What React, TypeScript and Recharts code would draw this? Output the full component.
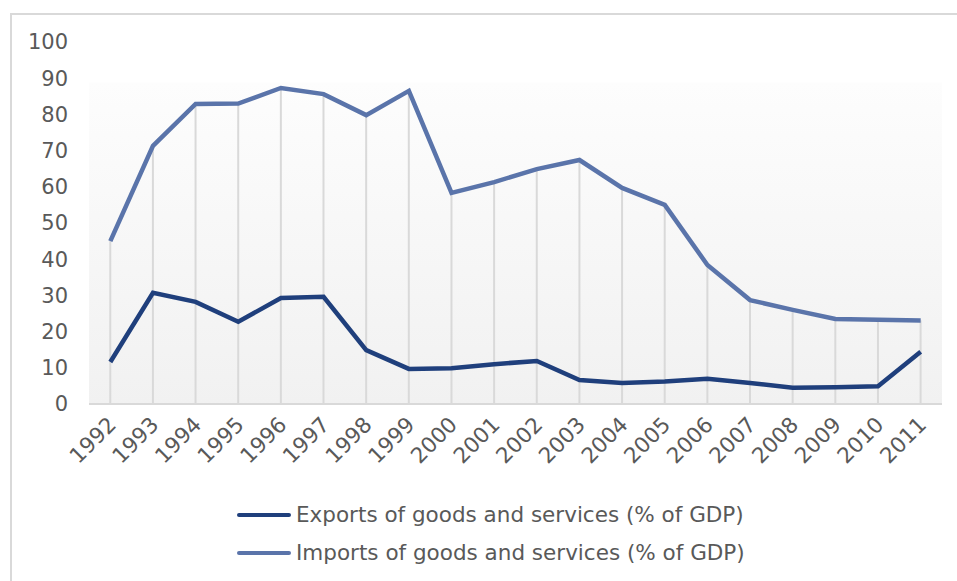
import React from 'react';
import { ComposedChart, Line, Bar, XAxis, YAxis, Legend, ReferenceArea } from 'recharts';

const years = ['1992','1993','1994','1995','1996','1997','1998','1999','2000','2001','2002','2003','2004','2005','2006','2007','2008','2009','2010','2011'];
const exportsPct = [11.6, 30.7, 28.2, 22.7, 29.3, 29.6, 14.9, 9.7, 9.9, 11.0, 11.9, 6.6, 5.8, 6.2, 7.0, 5.8, 4.5, 4.6, 4.9, 14.4];
const importsPct = [45.0, 71.3, 82.9, 83.0, 87.3, 85.6, 79.8, 86.5, 58.3, 61.3, 64.9, 67.4, 59.7, 55.0, 38.4, 28.7, 26.0, 23.5, 23.3, 23.1];
const yTicks = [0, 10, 20, 30, 40, 50, 60, 70, 80, 90, 100];
const seriesNames = ['Exports of goods and services (% of GDP)', 'Imports of goods and services (% of GDP)'];

const data = years.map((y, i) => ({ year: y, exports: exportsPct[i], imports: importsPct[i] }));

const FONT = '"DejaVu Sans", Verdana, sans-serif';
const EXP_COLOR = '#1f3f7c';
const IMP_COLOR = '#5a74aa';
const TEXT = '#595959';

const XTick = (props: any) => {
  const { x, y, payload } = props;
  const ax = x + 7;
  const ay = y + 14;
  return (
    <text x={ax} y={ay} transform={`rotate(-45 ${ax} ${ay})`} textAnchor="end" fill={TEXT} fontSize={21.5} fontFamily={FONT}>
      {payload.value}
    </text>
  );
};

const DropLine = (props: any) => {
  const { x, y, width, height } = props;
  const cx = x + width / 2;
  return <line x1={cx} x2={cx} y1={y} y2={y + height} stroke="#d9d9d9" strokeWidth={2} />;
};

const LegendContent = () => {
  const colors = [EXP_COLOR, IMP_COLOR];
  return (
    <div style={{ position: 'relative', height: 90, width: 957 }}>
      {seriesNames.map((n, i) => (
        <div key={n} style={{ position: 'absolute', left: 237, top: 21 + i * 38, display: 'flex', alignItems: 'center', fontFamily: FONT, fontSize: 21.5, color: TEXT, whiteSpace: 'nowrap', lineHeight: '26px' }}>
          <span style={{ display: 'inline-block', width: 54, height: 4, background: colors[i], borderRadius: 2, marginRight: 5 }} />
          <span>{n}</span>
        </div>
      ))}
    </div>
  );
};

export default function App() {
  return (
    <div style={{ position: 'absolute', left: 0, top: 0, width: 957, height: 581, overflow: 'hidden', background: '#fff' }}>
      <div style={{ position: 'absolute', left: 10, top: 13, width: 1000, height: 1000, border: '2px solid #d9d9d9', boxSizing: 'border-box' }} />
      <div style={{ position: 'absolute', left: 0, top: 0 }}>
        <ComposedChart width={957} height={581} data={data} margin={{ top: 42, right: 15, left: 0, bottom: 10 }}>
          <defs>
            <linearGradient id="bgGrad" x1="0" y1="0" x2="0" y2="1">
              <stop offset="0%" stopColor="#fdfdfd" />
              <stop offset="100%" stopColor="#f1f1f1" />
            </linearGradient>
          </defs>
          <ReferenceArea y1={0} y2={88.8} fill="url(#bgGrad)" fillOpacity={1} stroke="none" ifOverflow="visible" />
          <XAxis dataKey="year" height={77} tickLine={false} axisLine={{ stroke: '#d9d9d9', strokeWidth: 2 }} tick={<XTick />} interval={0} />
          <YAxis width={89} domain={[0, 100]} ticks={yTicks} tickLine={false} axisLine={false} tickMargin={15}
            tick={{ fill: TEXT, fontSize: 21, fontFamily: FONT }} />
          <Bar dataKey="imports" shape={<DropLine />} isAnimationActive={false} legendType="none" />
          <Line type="linear" dataKey="imports" stroke={IMP_COLOR} strokeWidth={4.5} dot={false} isAnimationActive={false} />
          <Line type="linear" dataKey="exports" stroke={EXP_COLOR} strokeWidth={4.5} dot={false} isAnimationActive={false} />
          <Legend verticalAlign="bottom" content={<LegendContent />} wrapperStyle={{ left: 0, width: 957 }} />
        </ComposedChart>
      </div>
    </div>
  );
}
